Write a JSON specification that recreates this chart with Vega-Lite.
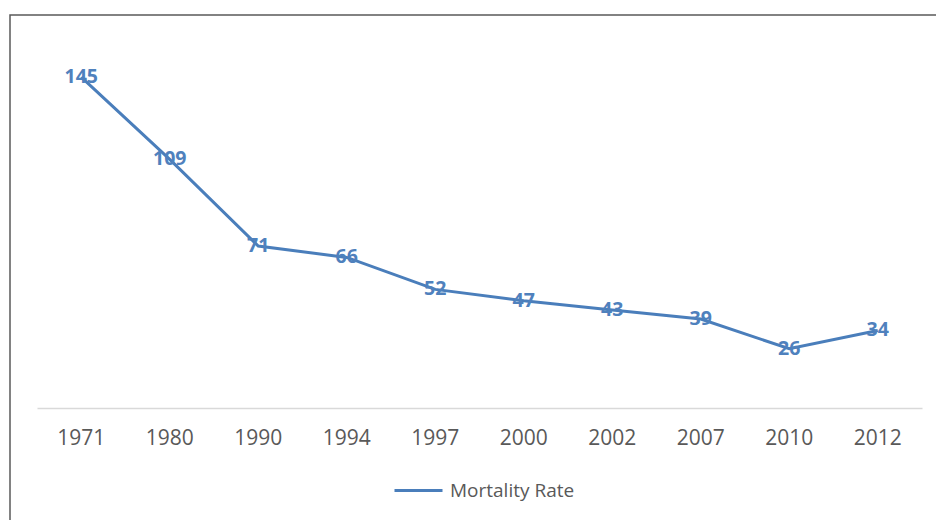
{
  "$schema": "https://vega.github.io/schema/vega-lite/v6.json",
  "width": 940,
  "height": 520,
  "autosize": "none",
  "padding": {"left": 10, "top": 15, "right": 0, "bottom": 0},
  "background": "white",
  "config": {
    "view": {"stroke": "#595959", "strokeWidth": 1.5},
    "font": "Open Sans"
  },
  "data": {
    "values": [
      {"year": "1971", "rate": 145, "series": "Mortality Rate"},
      {"year": "1980", "rate": 109, "series": "Mortality Rate"},
      {"year": "1990", "rate": 71, "series": "Mortality Rate"},
      {"year": "1994", "rate": 66, "series": "Mortality Rate"},
      {"year": "1997", "rate": 52, "series": "Mortality Rate"},
      {"year": "2000", "rate": 47, "series": "Mortality Rate"},
      {"year": "2002", "rate": 43, "series": "Mortality Rate"},
      {"year": "2007", "rate": 39, "series": "Mortality Rate"},
      {"year": "2010", "rate": 26, "series": "Mortality Rate"},
      {"year": "2012", "rate": 34, "series": "Mortality Rate"}
    ]
  },
  "encoding": {
    "x": {
      "field": "year",
      "type": "ordinal",
      "bandPosition": 0.5,
      "scale": {"type": "band", "range": [27, 912], "paddingInner": 0, "paddingOuter": 0},
      "axis": {
        "title": null,
        "orient": "bottom",
        "offset": -127,
        "domainColor": "#d9d9d9",
        "domainWidth": 1.5,
        "ticks": false,
        "labelAngle": 0,
        "labelFont": "Open Sans",
        "labelFontSize": 21,
        "labelColor": "#595959",
        "labelPadding": 19
      }
    },
    "y": {
      "field": "rate",
      "type": "quantitative",
      "scale": {"domain": [0, 160], "range": [393, 28], "nice": false, "zero": true},
      "axis": null
    }
  },
  "layer": [
    {
      "mark": {"type": "line", "strokeWidth": 3},
      "encoding": {
        "color": {
          "field": "series",
          "type": "nominal",
          "scale": {"range": ["#4a7ebb"]},
          "legend": {
            "title": null,
            "orient": "none",
            "legendX": 383,
            "legendY": 450,
            "symbolType": "stroke",
            "symbolSize": 2304,
            "symbolStrokeWidth": 3,
            "labelFont": "Open Sans",
            "labelFontSize": 19,
            "labelColor": "#595959",
            "labelOffset": 6,
            "padding": 0
          }
        }
      }
    },
    {
      "mark": {"type": "text", "font": "Open Sans", "fontSize": 19.5, "fontWeight": "bold", "color": "#4f81bd", "align": "center", "baseline": "middle"},
      "encoding": {"text": {"field": "rate", "type": "quantitative"}}
    }
  ]
}
